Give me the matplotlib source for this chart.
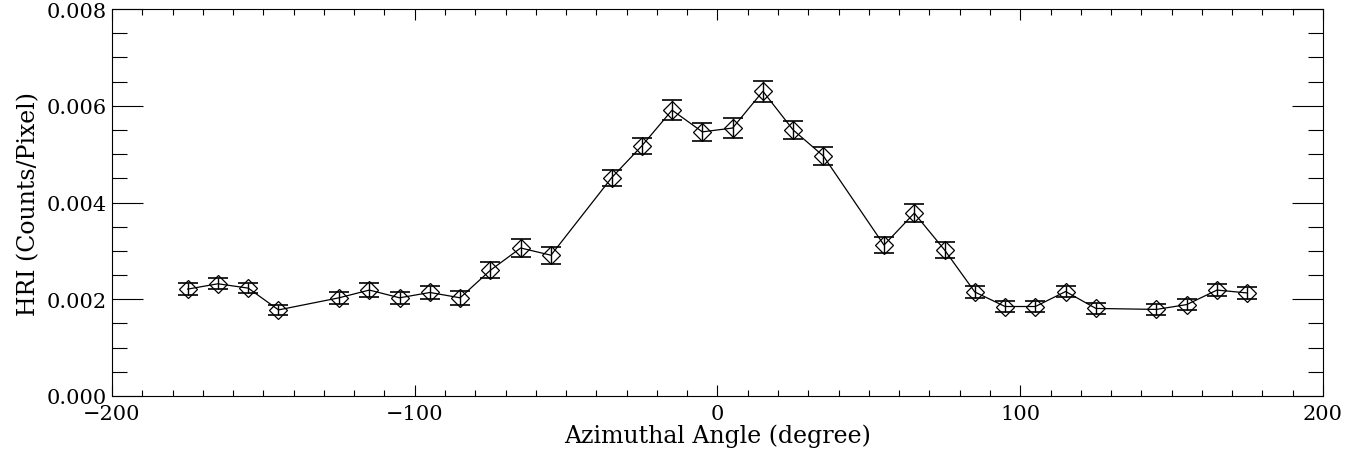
import numpy as np
import matplotlib
matplotlib.use('Agg')
import matplotlib.pyplot as plt
from matplotlib.ticker import MultipleLocator, FormatStrFormatter

# azimuthal profile of HRI counts
angle = [-175, -165, -155, -145, -125, -115, -105, -95, -85, -75, -65, -55,
         -35, -25, -15, -5, 5, 15, 25, 35, 55, 65, 75, 85, 95, 105, 115, 125,
         145, 155, 165, 175]
hri = [0.00221, 0.00232, 0.00223, 0.00178, 0.00203, 0.00219, 0.00203, 0.00214,
       0.00203, 0.00260, 0.00306, 0.00291, 0.00451, 0.00517, 0.00591, 0.00546,
       0.00554, 0.00630, 0.00550, 0.00496, 0.00312, 0.00378, 0.00302, 0.00215,
       0.00185, 0.00185, 0.00216, 0.00181, 0.00179, 0.00189, 0.00219, 0.00213]
err = [0.00012, 0.00011, 0.00011, 0.00011, 0.00013, 0.00014, 0.00013, 0.00014,
       0.00014, 0.00017, 0.00019, 0.00018, 0.00017, 0.00017, 0.00020, 0.00019,
       0.00020, 0.00022, 0.00018, 0.00018, 0.00017, 0.00019, 0.00016, 0.00012,
       0.00012, 0.00011, 0.00012, 0.00011, 0.00011, 0.00011, 0.00012, 0.00012]

plt.rcParams['font.family'] = ['DejaVu Serif']

fig = plt.figure(figsize=(13.59, 4.64), dpi=100)
ax = fig.add_axes([0.0824, 0.1444, 0.8911, 0.834])

ax.errorbar(angle, hri, yerr=err, fmt='-', color='black', lw=0.9,
            elinewidth=1.0, capsize=7, capthick=1.2)
ax.plot(angle, hri, 'D', ms=9.5, mfc='none', mec='black', mew=0.9)

ax.set_xlim(-200, 200)
ax.set_ylim(0, 0.008)
ax.xaxis.set_major_locator(MultipleLocator(100))
ax.xaxis.set_minor_locator(MultipleLocator(10))
ax.yaxis.set_major_locator(MultipleLocator(0.002))
ax.yaxis.set_minor_locator(MultipleLocator(0.0005))
ax.yaxis.set_major_formatter(FormatStrFormatter('%.3f'))
ax.tick_params(which='both', direction='in', top=True, right=True,
               labelsize=15, width=0.8)
ax.tick_params(axis='x', which='major', length=8, pad=6)
ax.tick_params(axis='x', which='minor', length=4)
ax.tick_params(axis='y', which='major', length=22, pad=4)
ax.tick_params(axis='y', which='minor', length=11)

ax.set_xlabel('Azimuthal Angle (degree)', fontsize=17, labelpad=0)
ax.set_ylabel('HRI (Counts/Pixel)', fontsize=17, labelpad=4)

fig.savefig('out.png', dpi=100)
